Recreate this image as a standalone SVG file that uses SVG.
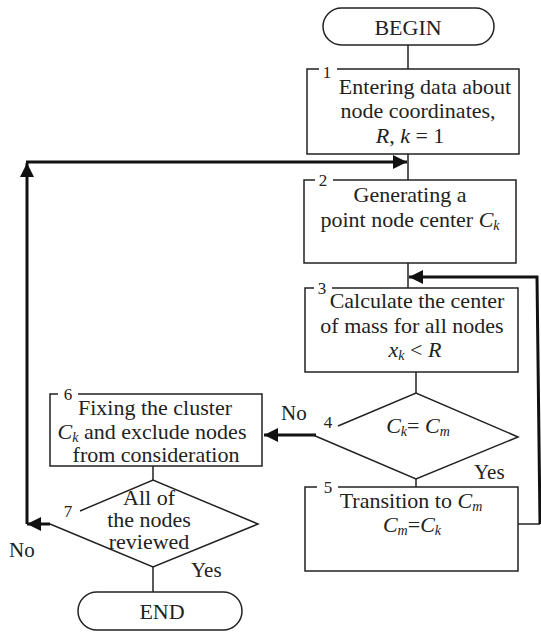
<svg xmlns="http://www.w3.org/2000/svg" width="541" height="637" viewBox="0 0 541 637">
<style>
.s{fill:none;stroke:#222;stroke-width:1.5}
.t{font-family:"Liberation Serif","Times New Roman",serif;font-size:22px;fill:#222;text-anchor:middle}
.n{font-family:"Liberation Serif","Times New Roman",serif;font-size:17px;fill:#222;text-anchor:middle}
.l{font-family:"Liberation Serif","Times New Roman",serif;font-size:21px;fill:#222}
.i{font-style:italic}
.b{font-style:italic;font-size:14px}
.c{fill:none;stroke:#222;stroke-width:1.5}
.k{fill:none;stroke:#111;stroke-width:3}
</style>
<defs>
<marker id="ah" markerUnits="userSpaceOnUse" markerWidth="15" markerHeight="15" refX="14" refY="7" orient="auto">
<path d="M0,0 L14,7 L0,14 z" fill="#111"/>
</marker>
</defs>
<g id="connectors">
<path class="c" d="M408,45 V69"/>
<path class="c" d="M408,154 V180"/>
<path class="c" d="M408,263 V288"/>
<path class="c" d="M416,372 V393"/>
<path class="c" d="M416,479 V487"/>
<path class="c" d="M153,466 V480"/>
<path class="c" d="M153,567 V592"/>
<path class="k" d="M316,435 H264" marker-end="url(#ah)"/>
<path class="k" d="M50,524 H27" marker-end="url(#ah)"/>
<path class="k" d="M27,524 V163" marker-end="url(#ah)"/>
<path class="k" d="M26,162 H407" marker-end="url(#ah)"/>
<path class="c" d="M518,524 H540"/>
<path class="k" d="M540,524 L537,277 H409" marker-end="url(#ah)"/>
</g>
<g id="begin">
<rect class="s" x="323" y="8" width="171" height="37" rx="18.5"/>
<text class="t" x="408" y="35">BEGIN</text>
</g>
<g id="n1">
<path class="s" d="M319,69 H307 V154 H519 V69 H337"/>
<text class="n" x="327" y="78">1</text>
<text class="t" x="425" y="94">Entering data about</text>
<text class="t" x="418" y="118">node coordinates,</text>
<text class="t" x="410" y="143"><tspan class="i">R</tspan>, <tspan class="i">k</tspan> = 1</text>
</g>
<g id="n2">
<path class="s" d="M315,180 H304 V263 H516 V180 H333"/>
<text class="n" x="323" y="186">2</text>
<text class="t" x="410" y="202">Generating a</text>
<text class="t" x="410" y="227">point node center <tspan class="i">C</tspan><tspan class="b" dy="3">k</tspan></text>
</g>
<g id="n3">
<path class="s" d="M314,288 H305 V372 H518 V288 H332"/>
<text class="n" x="322" y="294">3</text>
<text class="t" x="417" y="308">Calculate the center</text>
<text class="t" x="412" y="333">of mass for all nodes</text>
<text class="t" x="415" y="357"><tspan class="i">x</tspan><tspan class="b" dy="3">k</tspan><tspan dy="-3"> &lt; </tspan><tspan class="i">R</tspan></text>
</g>
<g id="n4">
<path class="s" d="M338,426 L416,393 L518,437 L416,479 L313,435"/>
<text class="n" x="328" y="428">4</text>
<text class="t" x="418" y="433"><tspan class="i">C</tspan><tspan class="b" dy="3">k</tspan><tspan dy="-3">= </tspan><tspan class="i">C</tspan><tspan class="b" dy="3">m</tspan></text>
</g>
<g id="n5">
<path class="s" d="M317,487 H305 V571 H518 V487 H338"/>
<text class="n" x="328" y="493">5</text>
<text class="t" x="411" y="508">Transition to <tspan class="i">C</tspan><tspan class="b" dy="3">m</tspan></text>
<text class="t" x="412" y="532"><tspan class="i">C</tspan><tspan class="b" dy="3">m</tspan><tspan dy="-3">=</tspan><tspan class="i">C</tspan><tspan class="b" dy="3">k</tspan></text>
</g>
<g id="n6">
<path class="s" d="M58,394 H50 V466 H262 V394 H78"/>
<text class="n" x="68" y="400">6</text>
<text class="t" x="155" y="415">Fixing the cluster</text>
<text class="t" x="152" y="439"><tspan class="i">C</tspan><tspan class="b" dy="3">k</tspan><tspan dy="-3"> and exclude nodes</tspan></text>
<text class="t" x="156" y="462">from consideration</text>
</g>
<g id="n7">
<path class="s" d="M80,511 L153,480 L258,524 L153,567 L50,524"/>
<text class="n" x="68" y="517">7</text>
<text class="t" x="149" y="505">All of</text>
<text class="t" x="149" y="527">the nodes</text>
<text class="t" x="149" y="549">reviewed</text>
</g>
<g id="end">
<rect class="s" x="78" y="592" width="164" height="38" rx="19"/>
<text class="t" x="162" y="619">END</text>
</g>
<g id="labels">
<text class="l" x="281" y="420">No</text>
<text class="l" x="474" y="479">Yes</text>
<text class="l" x="9" y="557">No</text>
<text class="l" x="191" y="577">Yes</text>
</g>
</svg>
